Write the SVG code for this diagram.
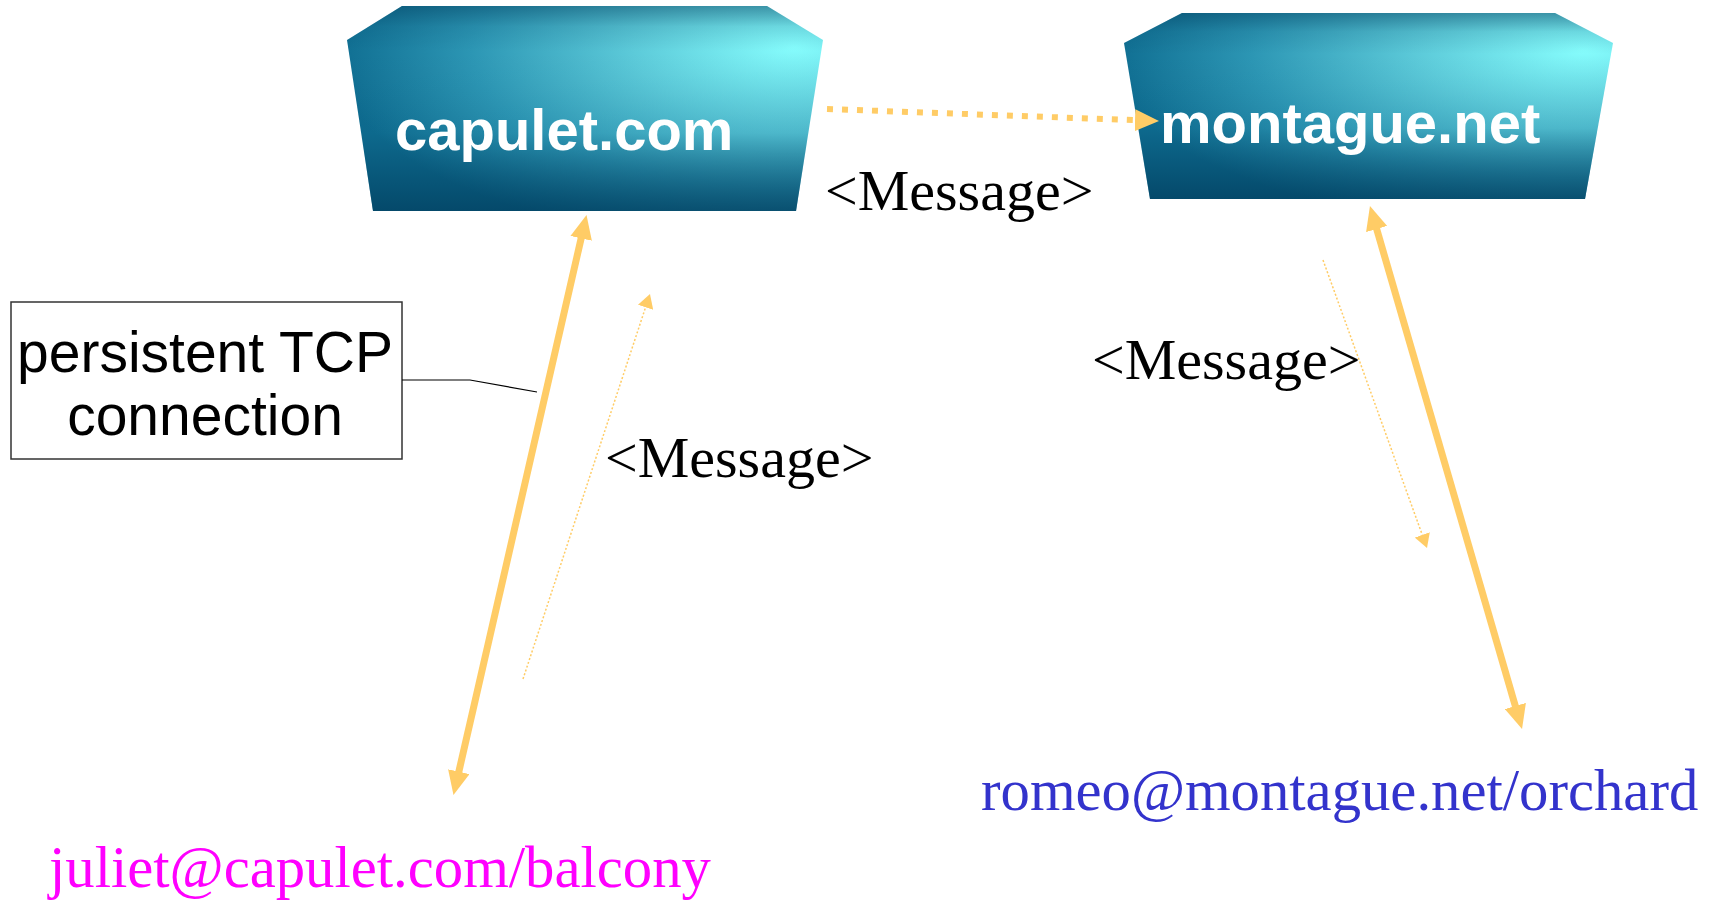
<svg xmlns="http://www.w3.org/2000/svg" width="1709" height="900" viewBox="0 0 1709 900">
<style>
.srv{font-family:"Liberation Sans",Arial,sans-serif;font-weight:bold;font-size:58px;fill:#ffffff}
.msg{font-family:"Liberation Serif","Times New Roman",serif;font-size:58px;fill:#000000}
.jid{font-family:"Liberation Serif","Times New Roman",serif;font-size:58.7px}
.note{font-family:"Liberation Sans",Arial,sans-serif;font-size:57px;fill:#000000}
.thick{stroke:#ffcc66;stroke-width:7;fill:none}
.thin{stroke:#ffcc66;stroke-width:1.5;stroke-dasharray:2 2;fill:none}
.s2s{stroke:#ffcc66;stroke-width:6;stroke-dasharray:6 9;fill:none}
</style>
<defs>
<radialGradient id="boxGlow" cx="0.92" cy="0.22" r="0.95" fx="0.94" fy="0.2">
<stop offset="0" stop-color="#86fdfd"/>
<stop offset="0.35" stop-color="#5ccad9"/>
<stop offset="0.7" stop-color="#2c96b4"/>
<stop offset="1" stop-color="#0e6c90"/>
</radialGradient>
<linearGradient id="boxShade" x1="0" y1="0" x2="0" y2="1">
<stop offset="0" stop-color="#003a5a" stop-opacity="0.45"/>
<stop offset="0.1" stop-color="#003a5a" stop-opacity="0.12"/>
<stop offset="0.22" stop-color="#003a5a" stop-opacity="0"/>
<stop offset="0.62" stop-color="#003a5a" stop-opacity="0.05"/>
<stop offset="1" stop-color="#003a5a" stop-opacity="0.7"/>
</linearGradient>
<marker id="headBig" markerUnits="userSpaceOnUse" markerWidth="24" markerHeight="22" refX="2" refY="11" orient="auto-start-reverse">
<path d="M0,0 L24,11 L0,22 z" fill="#ffcc66"/>
</marker>
<marker id="headSmall" markerUnits="userSpaceOnUse" markerWidth="14" markerHeight="16" refX="1" refY="8" orient="auto">
<path d="M0,0 L14,8 L0,16 z" fill="#ffcc66"/>
</marker>
</defs>
<rect width="1709" height="900" fill="#ffffff"/>

<g id="capulet">
<polygon points="402,6 767,6 823,40 796,211 373,211 347,40" fill="url(#boxGlow)"/>
<polygon points="402,6 767,6 823,40 796,211 373,211 347,40" fill="url(#boxShade)"/>
<text class="srv" x="395" y="150">capulet.com</text>
</g>

<g id="montague">
<polygon points="1182,13 1555,13 1613,43 1585,199 1150,199 1124,43" fill="url(#boxGlow)"/>
<polygon points="1182,13 1555,13 1613,43 1585,199 1150,199 1124,43" fill="url(#boxShade)"/>
<text class="srv" x="1160" y="143">montague.net</text>
</g>

<g id="note">
<rect x="11" y="302" width="391" height="157" fill="#ffffff" stroke="#333333" stroke-width="1.5"/>
<text class="note" x="205" y="372" text-anchor="middle">persistent TCP</text>
<text class="note" x="205" y="435" text-anchor="middle">connection</text>
</g>

<g id="juliet">
<text class="jid" x="49" y="887" fill="#ff00ff">juliet@capulet.com/balcony</text>
</g>

<g id="romeo">
<text class="jid" x="981" y="810" fill="#3333cc">romeo@montague.net/orchard</text>
</g>

<g id="labels">
<text class="msg" x="825" y="210">&lt;Message&gt;</text>
<text class="msg" x="605" y="477">&lt;Message&gt;</text>
<text class="msg" x="1092" y="379">&lt;Message&gt;</text>
</g>

<g id="connectors">
<polyline points="402,380 470,380 537,392" fill="none" stroke="#000000" stroke-width="1.2"/>
<line class="thick" x1="458.4" y1="773.6" x2="581.6" y2="236.4" marker-start="url(#headBig)" marker-end="url(#headBig)"/>
<line class="thick" x1="1376.1" y1="227.1" x2="1515.9" y2="707.9" marker-start="url(#headBig)" marker-end="url(#headBig)"/>
<line class="thin" x1="523" y1="679" x2="645.9" y2="306.3" marker-end="url(#headSmall)"/>
<line class="thin" x1="1323" y1="260" x2="1422.6" y2="535.8" marker-end="url(#headSmall)"/>
<line class="s2s" x1="827" y1="109" x2="1137" y2="120.2" marker-end="url(#headBig)"/>
</g>
</svg>
